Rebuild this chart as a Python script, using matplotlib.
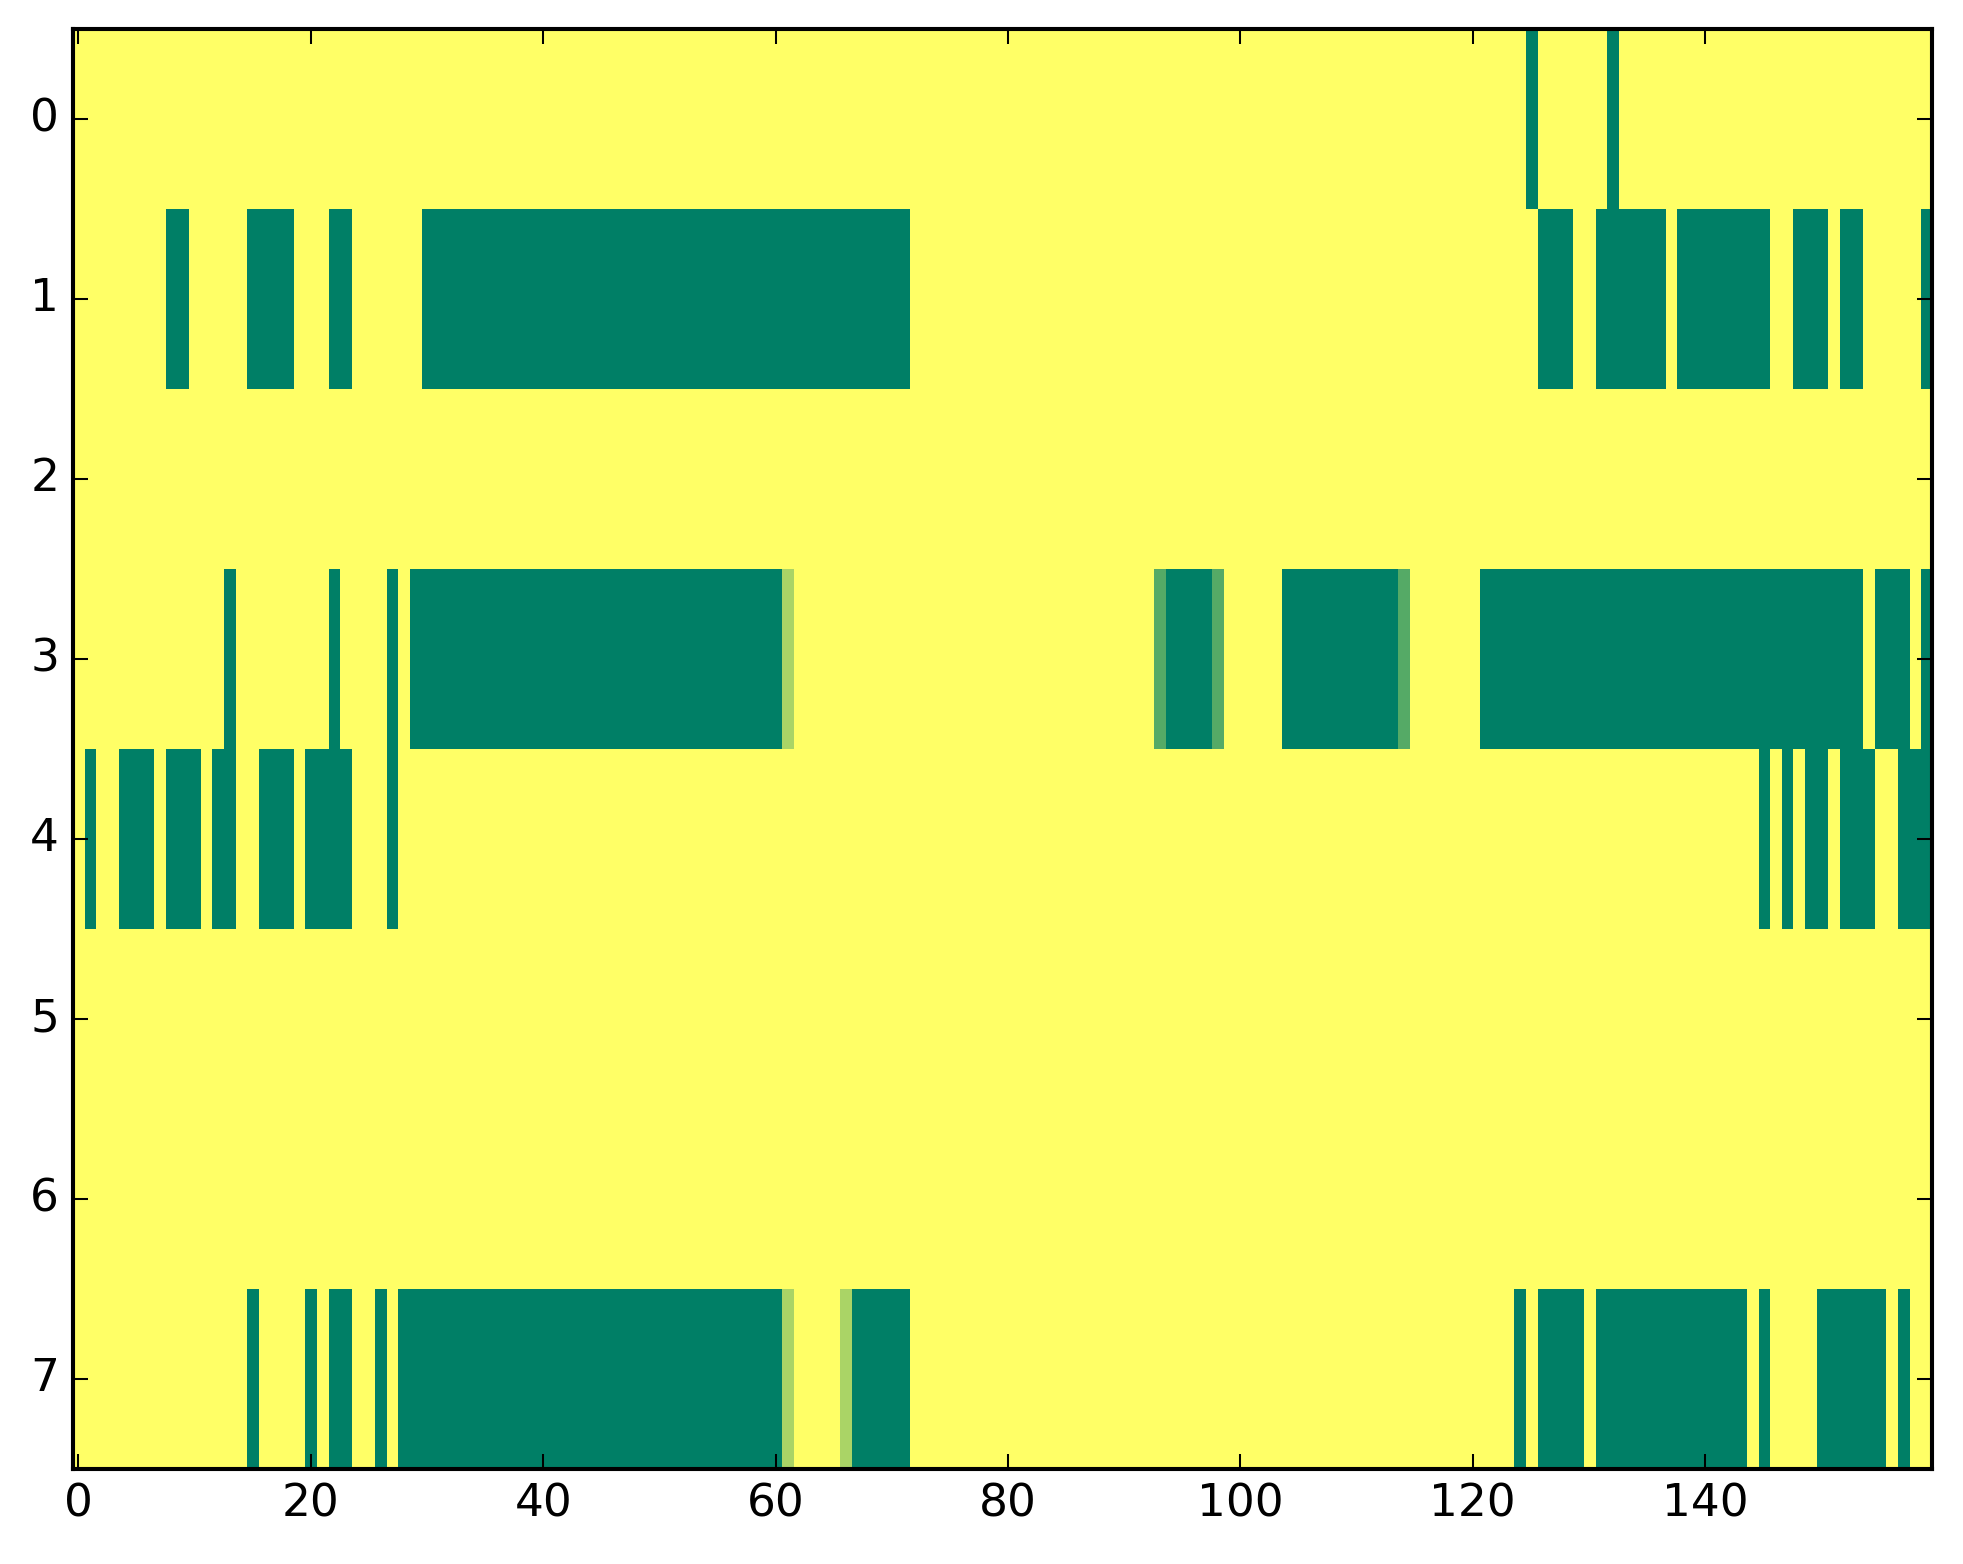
import matplotlib
matplotlib.use('Agg')
import matplotlib.pyplot as plt
import numpy as np

plt.style.use('classic')

n_rows = 8
n_cols = 160

# runs of cells below 1: (first column, last column, value)
row0_runs = [(125, 125, 0), (132, 132, 0)]
row1_runs = [(8, 9, 0), (15, 18, 0), (22, 23, 0), (30, 71, 0), (126, 128, 0),
             (131, 136, 0), (138, 145, 0), (148, 150, 0), (152, 153, 0), (159, 159, 0)]
row2_runs = []
row3_runs = [(13, 13, 0), (22, 22, 0), (27, 27, 0), (29, 60, 0), (61, 61, 2 / 3),
             (93, 93, 1 / 3), (94, 97, 0), (98, 98, 1 / 3), (104, 113, 0),
             (114, 114, 1 / 3), (121, 153, 0), (155, 157, 0), (159, 159, 0)]
row4_runs = [(1, 1, 0), (4, 6, 0), (8, 10, 0), (12, 13, 0), (16, 18, 0), (20, 23, 0),
             (27, 27, 0), (145, 145, 0), (147, 147, 0), (149, 150, 0), (152, 154, 0),
             (157, 159, 0)]
row5_runs = []
row6_runs = []
row7_runs = [(15, 15, 0), (20, 20, 0), (22, 23, 0), (26, 26, 0), (28, 60, 0),
             (61, 61, 2 / 3), (66, 66, 2 / 3), (67, 71, 0), (124, 124, 0),
             (126, 129, 0), (131, 143, 0), (145, 145, 0), (150, 155, 0), (157, 157, 0)]

all_runs = [row0_runs, row1_runs, row2_runs, row3_runs,
            row4_runs, row5_runs, row6_runs, row7_runs]

grid = np.ones((n_rows, n_cols))
for r, runs in enumerate(all_runs):
    for a, b, v in runs:
        grid[r, a:b + 1] = v

fig = plt.figure(figsize=(8, 6.374), dpi=245.4, facecolor='white')
ax = fig.add_axes([0.037, 0.061, 0.947, 0.9205])
ax.imshow(grid, cmap='summer', vmin=0, vmax=1, aspect='auto',
          interpolation='nearest')
ax.set_xlim(-0.5, n_cols - 0.5)
ax.set_ylim(n_rows - 0.5, -0.5)
ax.set_xticks(np.arange(0, 141, 20))
ax.set_yticks(np.arange(0, 8))
ax.tick_params(labelsize=13.3, width=0.6, length=4.4)
for sp in ax.spines.values():
    sp.set_linewidth(1.2)

fig.savefig('out.png', dpi=245.4, facecolor='white')
